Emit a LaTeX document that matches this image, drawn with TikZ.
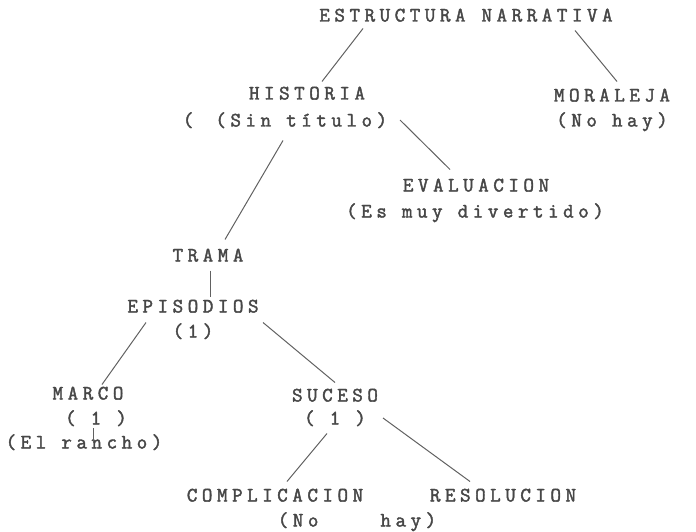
\documentclass[tikz,border=0pt]{standalone}
\usepackage{fontspec}
\usepackage{tikz}
\usetikzlibrary{positioning}
\setmonofont{Latin Modern Mono}[LetterSpace=22, FakeBold=2]

\begin{document}
\begin{tikzpicture}[x=1pt, y=-1pt, -, line width=1pt, draw=black!62,
	main node/.style={font=\ttfamily\fontsize{20.5}{22}\selectfont, text=black!72,
		inner sep=0pt, text height=12pt, text depth=3pt}]

  \useasboundingbox (0,0) rectangle (696,532);

  \node[main node] (root) at (466,17) {ESTRUCTURA\hspace{16pt}NARRATIVA};
  \node[main node] (historia) at (307,95) {HISTORIA};
  \node[main node] (histnote) at (285,122) {(\hspace{22pt}(Sin título)};
  \node[main node] (moraleja) at (612,97) {MORALEJA};
  \node[main node] (moranote) at (612,122) {(No hay)};
  \node[main node] (evaluacion) at (476,187) {EVALUACION};
  \node[main node] (evalnote) at (475,213) {(Es muy divertido)};
  \node[main node] (trama) at (208,257) {TRAMA};
  \node[main node] (episodios) at (193,308) {EPISODIOS};
  \node[main node] (epinote) at (193,333) {(1)};
  \node[main node] (marco) at (88,395) {MARCO};
  \node[main node] (marconum) at (96,420) {( 1 )};
  \node[main node] (marconote) at (84,444) {(El rancho)};
  \node[main node] (suceso) at (335,397) {SUCESO};
  \node[main node] (sucesonum) at (335,420) {( 1 )};
  \node[main node] (complicacion) at (275,497) {COMPLICACION};
  \node[main node] (resolucion) at (503,497) {RESOLUCION};
  \node[main node] (nohay) at (357,522) {(No\hspace{62pt}hay)};

  \path[] ([shift={(-103,3.5)}]root.south) edge [] ([shift={(15,-5.5)}]historia.north);
  \path[] ([shift={(109,5.5)}]root.south) edge [] ([shift={(5,-7.5)}]moraleja.north);
  \path[] ([shift={(115,-2)}]histnote.center) edge [] ([shift={(-26,-9.5)}]evaluacion.north);
  \path[] ([shift={(-2,10.5)}]histnote.south) edge [] ([shift={(17,-9.5)}]trama.north);
  \path[] ([shift={(2,5.5)}]trama.south) edge [] ([shift={(17,-3.5)}]episodios.north);
  \path[] ([shift={(-47,6.5)}]episodios.south) edge [] ([shift={(14,-2.5)}]marco.north);
  \path[] ([shift={(70,6.5)}]episodios.south) edge [] ([shift={(0,-6.5)}]suceso.north);
  \path[] ([shift={(-3,8)}]marconum.center) edge [] ([shift={(9,-1)}]marconote.center);
  \path[] ([shift={(-8,5.5)}]sucesonum.south) edge [] ([shift={(12,-7.5)}]complicacion.north);
  \path[] ([shift={(48,-2)}]sucesonum.center) edge [] ([shift={(-33,-7.5)}]resolucion.north);
\end{tikzpicture}
\end{document}
